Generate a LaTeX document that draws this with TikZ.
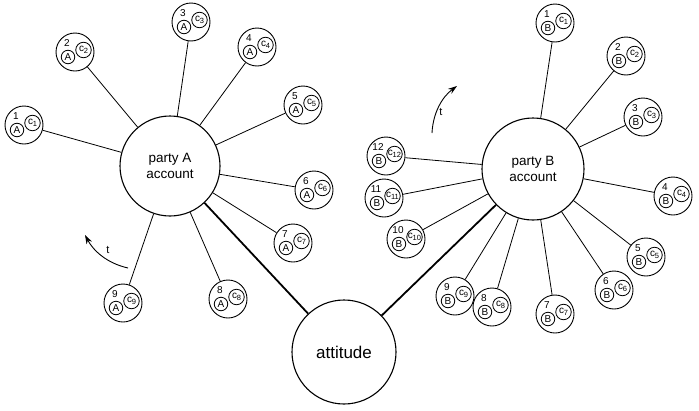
\documentclass[tikz,border=0pt]{standalone}
\usepackage{fontspec}
\setmainfont{Liberation Sans}
\usetikzlibrary{calc,arrows.meta}
\newcommand\subdig[1]{\raisebox{-1.6pt}{\fontsize{7.5}{7.5}\selectfont #1}}
\newcommand\satnode[4]{%
  \node[satouter] (#1) at (#2) {};
  \node[satin] (#1l) at ($(#1)+(-7,5)$) {#3};
  \node[satc] (#1c) at ($(#1)+(8.5,-2)$) {c\kern-0.2pt\subdig{#4}};
  \node[satnum] (#1n) at ($(#1)+(-8,-9)$) {#4};
}
\begin{document}
\begin{tikzpicture}[x=1pt,y=-1pt,
  big/.style={circle,draw,line width=1.1pt,inner sep=0pt,align=center},
  satouter/.style={circle,draw,line width=0.9pt,minimum size=38pt,inner sep=0pt},
  satin/.style={circle,draw,line width=0.8pt,minimum size=13.5pt,inner sep=0pt,font=\fontsize{10}{10}\selectfont},
  satc/.style={circle,draw,line width=0.8pt,minimum size=15.5pt,inner sep=0pt,font=\fontsize{10}{10}\selectfont},
  satnum/.style={inner sep=0pt,font=\fontsize{10}{10}\selectfont},
  conn/.style={line width=0.8pt},
  thicklink/.style={line width=1.8pt},
  tarrow/.style={line width=0.9pt,-{Stealth[length=9pt,width=6pt]}},
  tlabel/.style={inner sep=0pt,font=\fontsize{11}{11}\selectfont}
]
\useasboundingbox (0,0) rectangle (699,410);
% big circles
\node[big,minimum size=100pt,font=\fontsize{13.5}{15.5}\selectfont] (pA) at (170,166) {party A\\account};
\node[big,minimum size=102pt,font=\fontsize{13.5}{15.5}\selectfont] (pB) at (533,169) {party B\\account};
\node[big,minimum size=104pt,font=\fontsize{17}{19}\selectfont] (att) at (344,352) {attitude};
% satellites A
\satnode{A1}{24,125}{A}{1}
\satnode{A2}{75,52}{A}{2}
\satnode{A3}{191,22}{A}{3}
\satnode{A4}{257,47}{A}{4}
\satnode{A5}{303,105}{A}{5}
\satnode{A6}{314,190}{A}{6}
\satnode{A7}{293,243}{A}{7}
\satnode{A8}{228,299}{A}{8}
\satnode{A9}{123,303}{A}{9}
% satellites B
\satnode{B1}{555,23}{B}{1}
\satnode{B2}{626,56}{B}{2}
\satnode{B3}{643,117}{B}{3}
\satnode{B4}{673,196}{B}{4}
\satnode{B5}{646,257}{B}{5}
\satnode{B6}{614,290}{B}{6}
\satnode{B7}{555,314}{B}{7}
\satnode{B8}{492,307}{B}{8}
\satnode{B9}{455,296}{B}{9}
\satnode{B10}{406,239}{B}{10}
\satnode{B11}{384,198}{B}{11}
\satnode{B12}{386,156}{B}{12}
% connectors
\foreach \i in {1,...,9} {\draw[conn] (pA) -- (A\i);}
\foreach \i in {1,...,12} {\draw[conn] (pB) -- (B\i);}
\draw[thicklink] (pA) -- (att);
\draw[thicklink] (pB) -- (att);
% time arrows
\coordinate (tA0) at (128,268);
\coordinate (tA1) at (85,235);
\draw[tarrow] (tA0) .. controls (106,263) and (93,250) .. (tA1);
\node[tlabel] (tAl) at (108,250) {t};
\coordinate (tB0) at (432,133);
\coordinate (tB1) at (457,86);
\draw[tarrow] (tB0) .. controls (433,113) and (442,97) .. (tB1);
\node[tlabel] (tBl) at (441,112) {t};
\end{tikzpicture}
\end{document}
